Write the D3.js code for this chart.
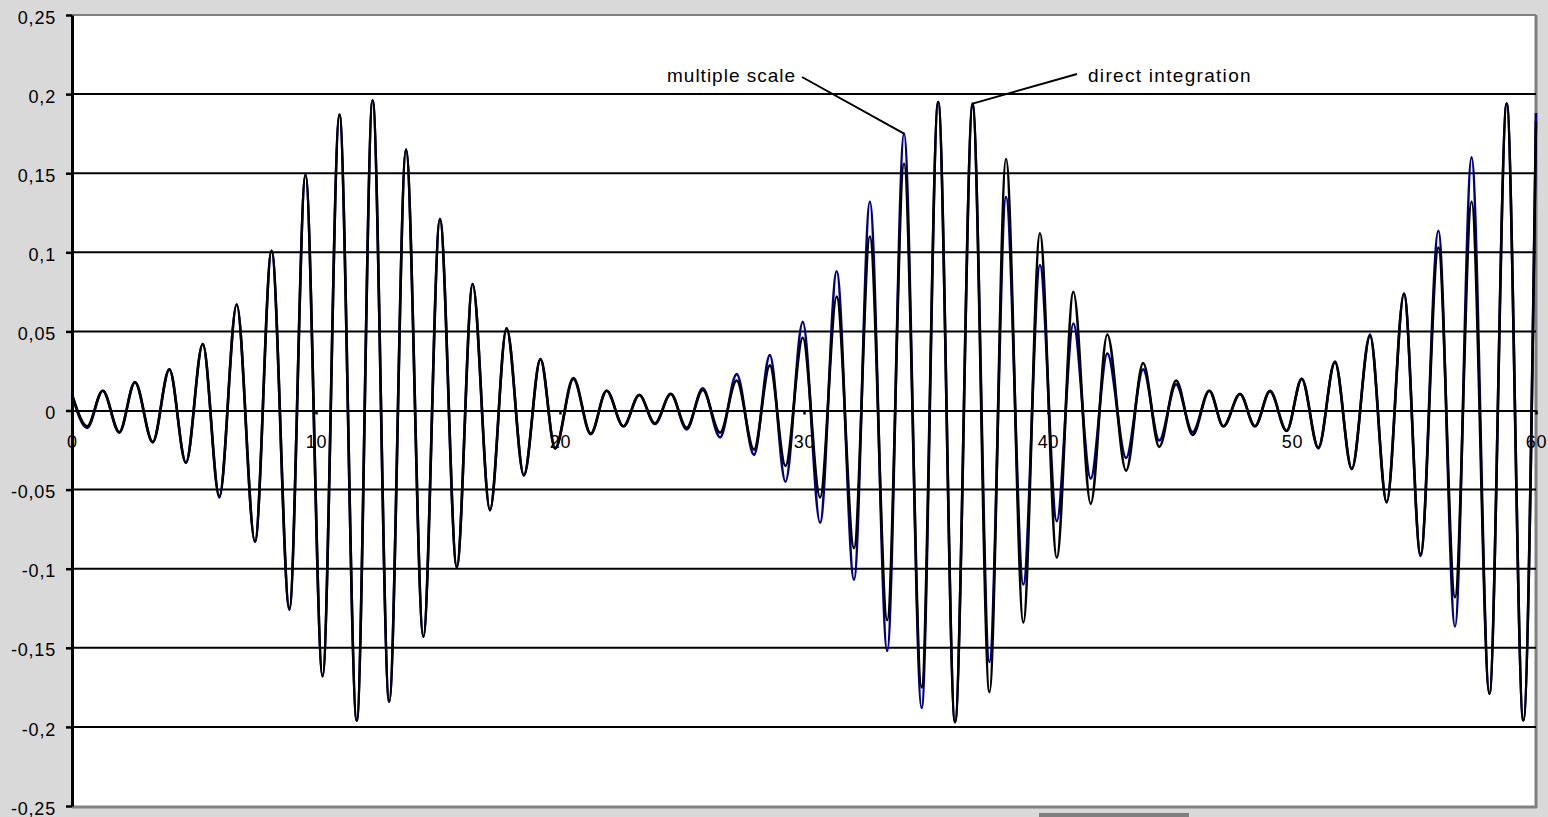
<!DOCTYPE html>
<html>
<head>
<meta charset="utf-8">
<script src="https://cdn.jsdelivr.net/npm/d3@7"></script>
<style>
  body { margin: 0; background: #d9d9d9; }
  text { font-family: "Liberation Sans", Arial, sans-serif; }
</style>
</head>
<body>
<svg id="chart" width="1548" height="817"></svg>
<script>
// data: times of the peaks / troughs and the two responses
var xTicks = [0, 10, 20, 30, 40, 50, 60];
var yTicks = [-0.25, -0.2, -0.15, -0.1, -0.05, 0, 0.05, 0.1, 0.15, 0.2, 0.25];
var yTickLabels = ["-0,25", "-0,2", "-0,15", "-0,1", "-0,05", "0", "0,05", "0,1", "0,15", "0,2", "0,25"];

var t = [0.00, 0.62, 1.26, 1.94, 2.58, 3.31, 3.99, 4.67, 5.36, 6.04,
         6.75, 7.50, 8.18, 8.91, 9.57, 10.27, 10.96, 11.67, 12.32, 13.00,
         13.69, 14.40, 15.08, 15.77, 16.42, 17.13, 17.81, 18.52, 19.20, 19.80,
         20.55, 21.26, 21.91, 22.60, 23.25, 23.89, 24.54, 25.19, 25.85, 26.56,
         27.24, 27.95, 28.60, 29.24, 29.95, 30.66, 31.34, 32.05, 32.70, 33.41,
         34.10, 34.82, 35.50, 36.19, 36.91, 37.60, 38.28, 38.99, 39.67, 40.36,
         41.04, 41.75, 42.43, 43.20, 43.90, 44.56, 45.25, 45.93, 46.61, 47.19,
         47.87, 48.48, 49.10, 49.78, 50.40, 51.08, 51.76, 52.45, 53.20, 53.88,
         54.59, 55.27, 56.00, 56.68, 57.36, 58.09, 58.80, 59.48, 60.00];

var directIntegration = [0.010, -0.010, 0.0125, -0.0136, 0.0178, -0.020, 0.026, -0.033, 0.042, -0.054,
         0.067, -0.083, 0.101, -0.125, 0.149, -0.168, 0.187, -0.196, 0.196, -0.184,
         0.165, -0.143, 0.121, -0.099, 0.080, -0.063, 0.052, -0.041, 0.0325, -0.024,
         0.0205, -0.0146, 0.0125, -0.010, 0.0098, -0.0082, 0.0104, -0.011, 0.013, -0.014,
         0.019, -0.0247, 0.0285, -0.035, 0.046, -0.055, 0.072, -0.087, 0.110, -0.1325,
         0.156, -0.175, 0.195, -0.197, 0.194, -0.178, 0.159, -0.134, 0.112, -0.093,
         0.075, -0.059, 0.048, -0.038, 0.030, -0.023, 0.019, -0.0154, 0.0125, -0.010,
         0.0104, -0.010, 0.0125, -0.0128, 0.020, -0.0234, 0.0306, -0.0367, 0.047, -0.058,
         0.0737, -0.091, 0.103, -0.118, 0.132, -0.179, 0.194, -0.196, 0.183];

var multipleScale = [0.010, -0.011, 0.0125, -0.014, 0.018, -0.020, 0.026, -0.033, 0.042, -0.055,
         0.067, -0.083, 0.101, -0.126, 0.149, -0.168, 0.187, -0.196, 0.196, -0.184,
         0.165, -0.143, 0.121, -0.099, 0.080, -0.063, 0.052, -0.041, 0.0325, -0.024,
         0.020, -0.015, 0.0125, -0.010, 0.0098, -0.0085, 0.0106, -0.012, 0.014, -0.017,
         0.023, -0.028, 0.035, -0.045, 0.056, -0.071, 0.088, -0.107, 0.132, -0.152,
         0.175, -0.188, 0.195, -0.197, 0.192, -0.159, 0.135, -0.110, 0.092, -0.070,
         0.055, -0.043, 0.036, -0.030, 0.026, -0.019, 0.0165, -0.0136, 0.0125, -0.010,
         0.0104, -0.010, 0.012, -0.013, 0.020, -0.024, 0.031, -0.037, 0.048, -0.058,
         0.074, -0.092, 0.1136, -0.1365, 0.160, -0.179, 0.194, -0.196, 0.188];

var svg = d3.select("#chart");

// plot box (note: "top" is taken by window.top)
var plotLeft = 72, plotRight = 1536, plotTop = 15, plotBottom = 806;

var x = d3.scaleLinear().domain([0, 60]).range([plotLeft, plotRight]);
var y = d3.scaleLinear().domain([-0.25, 0.25]).range([plotBottom, plotTop]);

// plot area
svg.append("rect")
  .attr("x", plotLeft).attr("y", plotTop)
  .attr("width", plotRight - plotLeft).attr("height", plotBottom - plotTop)
  .attr("fill", "#ffffff");

// grey frame (top, right, bottom)
svg.append("line").attr("x1", plotLeft).attr("x2", plotRight).attr("y1", plotTop).attr("y2", plotTop)
  .attr("stroke", "#808080").attr("stroke-width", 2);
svg.append("line").attr("x1", plotRight).attr("x2", plotRight).attr("y1", plotTop).attr("y2", plotBottom + 2)
  .attr("stroke", "#808080").attr("stroke-width", 3);
svg.append("line").attr("x1", plotLeft).attr("x2", plotRight + 1).attr("y1", plotBottom + 1).attr("y2", plotBottom + 1)
  .attr("stroke", "#808080").attr("stroke-width", 3);

// horizontal grid
svg.append("g")
  .selectAll("line")
  .data(yTicks.filter(function (d) { return Math.abs(d) < 0.24 && d !== 0; }))
  .join("line")
  .attr("x1", plotLeft).attr("x2", plotRight)
  .attr("y1", function (d) { return y(d); })
  .attr("y2", function (d) { return y(d); })
  .attr("stroke", "#000").attr("stroke-width", 2);

// y axis
var yAxis = svg.append("g")
  .attr("transform", "translate(" + plotLeft + ",0)")
  .call(d3.axisLeft(y).tickValues(yTicks)
    .tickFormat(function (d, i) { return yTickLabels[i]; })
    .tickSize(6).tickSizeOuter(0).tickPadding(10));
yAxis.select(".domain").attr("stroke", "#000").attr("stroke-width", 3);
yAxis.selectAll(".tick line").attr("stroke", "#000").attr("stroke-width", 2.5);
yAxis.selectAll("text")
  .attr("font-size", "18px").attr("fill", "#000")
  .attr("letter-spacing", "0.8px").attr("dy", "0.45em")
  .style("font-family", "'Liberation Sans', Arial, sans-serif");

// x axis on the zero line
var xAxis = svg.append("g")
  .attr("transform", "translate(0," + y(0) + ")")
  .call(d3.axisBottom(x).tickValues(xTicks).tickSize(4).tickSizeOuter(0).tickPadding(21));
xAxis.select(".domain").attr("stroke", "#000").attr("stroke-width", 2);
xAxis.selectAll(".tick line").attr("stroke", "#000").attr("stroke-width", 2.5);
xAxis.selectAll("text")
  .attr("font-size", "18px").attr("fill", "#000")
  .attr("letter-spacing", "0.8px")
  .style("font-family", "'Liberation Sans', Arial, sans-serif");

// series
var line = d3.line()
  .x(function (d, i) { return x(t[i]); })
  .y(function (d) { return y(d); })
  .curve(d3.curveMonotoneX);

svg.append("path")
  .attr("d", line(multipleScale))
  .attr("fill", "none")
  .attr("stroke", "#000080")
  .attr("stroke-width", 2.6)
  .attr("stroke-linejoin", "round");

svg.append("path")
  .attr("d", line(directIntegration))
  .attr("fill", "none")
  .attr("stroke", "#000000")
  .attr("stroke-width", 2.6)
  .attr("stroke-linejoin", "round");

// labels with leader lines
var msIdx = t.indexOf(34.10);
var diIdx = t.indexOf(36.91);

svg.append("line")
  .attr("x1", 802).attr("y1", 77)
  .attr("x2", x(t[msIdx])).attr("y2", y(multipleScale[msIdx]))
  .attr("stroke", "#000").attr("stroke-width", 2);
svg.append("text")
  .attr("x", 667).attr("y", 82)
  .attr("font-size", "19px").attr("letter-spacing", "1px")
  .text("multiple scale");

svg.append("line")
  .attr("x1", 1077).attr("y1", 74)
  .attr("x2", x(t[diIdx])).attr("y2", y(directIntegration[diIdx]))
  .attr("stroke", "#000").attr("stroke-width", 2);
svg.append("text")
  .attr("x", 1088).attr("y", 82)
  .attr("font-size", "19px").attr("letter-spacing", "1.3px")
  .text("direct integration");

// grey strip under the frame
svg.append("rect")
  .attr("x", 1039).attr("y", 813).attr("width", 150).attr("height", 4)
  .attr("fill", "#808080");
</script>
</body>
</html>
